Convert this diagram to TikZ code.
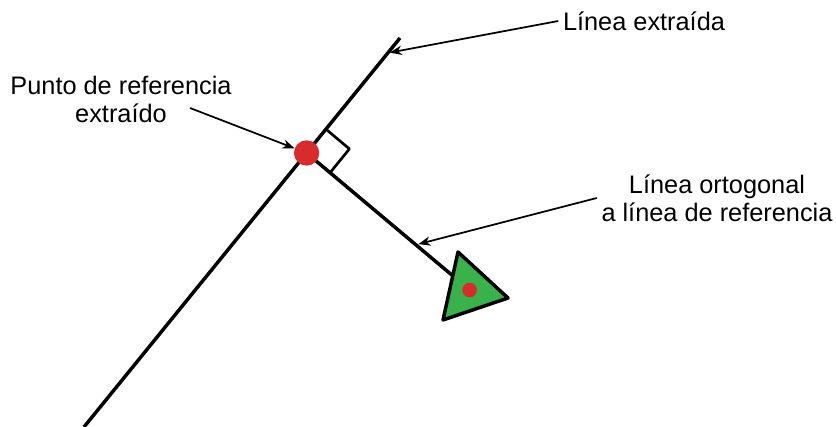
\documentclass[tikz,border=0pt]{standalone}
\usepackage{fontspec}
\setmainfont{Liberation Sans}
\usetikzlibrary{calc,arrows.meta}
\definecolor{rojo}{RGB}{216,44,44}
\definecolor{verde}{RGB}{58,178,76}
\begin{document}
\begin{tikzpicture}[x=0.75pt,y=-0.75pt,font=\fontsize{19}{21}\selectfont,line join=round,>={Stealth[length=9pt,width=7pt]}]
	\tikzset{flecha/.style={->,line width=1.3pt,shorten >=1.5pt},
	punto/.style={circle,fill=rojo,inner sep=0pt},
	grueso/.style={line width=2.6pt}}
	\def\lado{23pt}
	\useasboundingbox(0,0)rectangle(836,427);
	\coordinate(ini)at(84,427);
	\coordinate(fin)at(400,38);
	\coordinate(pto)at($(ini)!0.7044!(fin)$);
	\coordinate(t1)at(458,252);
	\coordinate(t2)at(508,298);
	\coordinate(t3)at(443,320);
	\coordinate(cen)at(barycentric cs:t1=1,t2=1,t3=1);
	\coordinate(c1)at($(pto)!\lado!(fin)$);
	\coordinate(c2)at($(pto)!\lado!(cen)$);
	\draw[grueso](ini)--(fin);
	\draw[grueso](pto)--(cen);
	\draw[line width=2pt](c1)--($(c1)+(c2)-(pto)$)--(c2);
	\draw[grueso,fill=verde](t1)--(t2)--(t3)--cycle;
	\node[punto,minimum size=11pt](obj)at(cen){};
	\node[punto,minimum size=19pt](ref)at(pto){};
	\node(lext)at(644,21){Línea extraída};
	\node[align=center](lref)at(121,99){Punto de referencia\\extraído};
	\node[align=center](lort)at(717,198){Línea ortogonal\\a línea de referencia};
	\coordinate(a1)at($(pto)!0.87!(fin)$);
	\coordinate(a2)at($(pto)!0.67!(cen)$);
	\coordinate(cr)at(190,108);
	\draw[flecha](lext.west)--(a1);
	\draw[flecha,shorten >=0pt](cr)--(ref);
	\draw[flecha,shorten >=2pt](lort.west)--(a2);
\end{tikzpicture}
\end{document}
